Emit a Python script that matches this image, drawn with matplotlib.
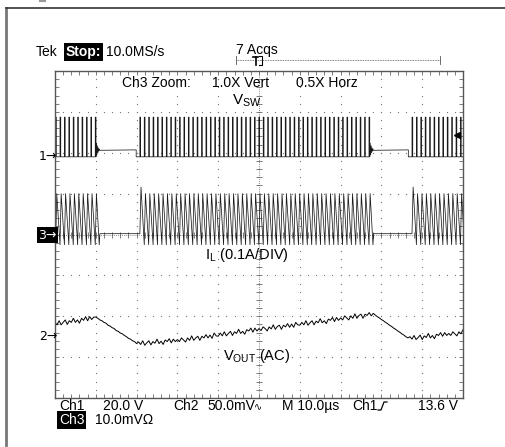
import numpy as np
import matplotlib.pyplot as plt
from matplotlib.lines import Line2D

plt.rcParams['font.family'] = ['Liberation Sans', 'DejaVu Sans']

W, H = 505, 447

# scope screen: 10 divisions x 10us, 8 vertical divisions
# switching bursts (us): first and last pulse of each burst
burst_first = [0.15, 20.8, 87.5]
burst_last = [10.4, 77.2, 99.9]
idle_drop = [19.9, 86.6]      # Vsw steps back to ground just before the next burst
period_us = 1.08
on_us = 0.18

# levels in divisions (ch1 ref at +1.9 div, ch3 ref at 0, ch2 ref at -2.47)
vsw_low, vsw_high, vsw_idle = 1.90, 2.87, 2.07
il_peak, il_first_peak, il_valley, il_idle = 1.00, 1.16, -0.25, 0.02
ring = [0.16, -0.12, 0.10, -0.07, 0.05, -0.03, 0.02, -0.01]
ring_dt = 0.12
trig_level = 2.43

# Vout (AC), divisions, one sample every 0.5us
vout_dt = 0.5
vout = [
    -2.15, -2.21, -2.11, -2.21, -2.15, -2.09, -2.20, -2.11, -2.15, -2.05,
    -2.15, -2.09, -2.17, -2.05, -2.10, -2.01, -2.11, -2.01, -2.08, -2.02,
    -2.02, -2.05, -2.09, -2.11, -2.15, -2.17, -2.22, -2.24, -2.28, -2.30,
    -2.35, -2.37, -2.41, -2.43, -2.47, -2.50, -2.54, -2.56, -2.60, -2.62,
    -2.67, -2.63, -2.69, -2.60, -2.71, -2.65, -2.60, -2.70, -2.62, -2.66,
    -2.56, -2.67, -2.61, -2.69, -2.58, -2.62, -2.55, -2.65, -2.56, -2.62,
    -2.57, -2.62, -2.53, -2.58, -2.63, -2.53, -2.59, -2.48, -2.59, -2.53,
    -2.49, -2.59, -2.49, -2.53, -2.45, -2.53, -2.46, -2.54, -2.41, -2.48,
    -2.49, -2.41, -2.48, -2.38, -2.48, -2.42, -2.37, -2.47, -2.38, -2.42,
    -2.32, -2.42, -2.37, -2.44, -2.33, -2.36, -2.29, -2.39, -2.29, -2.36,
    -2.30, -2.35, -2.26, -2.30, -2.36, -2.26, -2.31, -2.21, -2.32, -2.25,
    -2.22, -2.32, -2.22, -2.26, -2.18, -2.27, -2.19, -2.27, -2.15, -2.21,
    -2.22, -2.15, -2.21, -2.11, -2.22, -2.16, -2.11, -2.21, -2.12, -2.16,
    -2.06, -2.16, -2.11, -2.18, -2.07, -2.10, -2.03, -2.13, -2.03, -2.10,
    -2.04, -2.09, -1.99, -2.04, -2.09, -1.99, -2.05, -1.94, -2.05, -1.98,
    -1.95, -2.05, -1.95, -1.98, -1.91, -1.99, -1.93, -1.97, -2.01, -2.04,
    -2.08, -2.11, -2.15, -2.18, -2.22, -2.25, -2.29, -2.32, -2.36, -2.39,
    -2.43, -2.46, -2.50, -2.53, -2.50, -2.56, -2.47, -2.57, -2.52, -2.46,
    -2.57, -2.48, -2.52, -2.42, -2.53, -2.47, -2.55, -2.44, -2.47, -2.40,
    -2.49, -2.40, -2.47, -2.42, -2.47, -2.38, -2.43, -2.48, -2.38, -2.43,
    -2.33,
]


def vsw_trace():
    t, v = [0.0], [vsw_low]
    for i, (a, b) in enumerate(zip(burst_first, burst_last)):
        if i > 0:
            t += [idle_drop[i - 1], idle_drop[i - 1]]
            v += [vsw_idle, vsw_low]
        p = a
        while p <= b + 1e-9:
            t += [p, p, p + on_us, p + on_us]
            v += [vsw_low, vsw_high, vsw_high, vsw_low]
            p += period_us
        end = p - period_us + on_us
        if i < len(burst_first) - 1:
            for k, r in enumerate(ring):
                t.append(end + 0.1 + k * ring_dt)
                v.append(vsw_idle + r)
    t.append(100.0)
    v.append(v[-1])
    return t, v


def il_trace():
    t, v = [0.0], [il_valley]
    for i, (a, b) in enumerate(zip(burst_first, burst_last)):
        first = True
        if i > 0:
            t.append(a - 0.3)
            v.append(il_idle)
        p = a
        while p <= b + 1e-9:
            start_lvl = il_idle if (first and i > 0) else il_valley
            pk = il_first_peak if (first and i > 0) else il_peak
            t += [p, p + on_us + 0.1]
            v += [start_lvl, pk]
            first = False
            p += period_us
        t.append(p - period_us * 0.1)
        v.append(il_valley)
        if i < len(burst_first) - 1:
            t.append(p + 0.05)
            v.append(il_idle)
    t.append(100.0)
    v.append(v[-1])
    return t, v


fig = plt.figure(figsize=(W / 100, H / 100), dpi=100)
ax = fig.add_axes([55 / W, 1 - 398 / H, 408 / W, 327 / H])
ax.set_xlim(0, 100)
ax.set_ylim(-4, 4)

# graticule
for s in ax.spines.values():
    s.set_color('#555555')
    s.set_linewidth(1.0)
ax.set_xticks(np.arange(0, 101, 10))
ax.set_yticks(np.arange(-4, 5, 1))
ax.set_xticks(np.arange(0, 101, 2), minor=True)
ax.set_yticks(np.arange(-4, 4.01, 0.2), minor=True)
ax.tick_params(which='both', direction='in', length=3, width=0.6, color='#666666',
               top=True, right=True, labelbottom=False, labelleft=False)

yy = np.arange(-4, 4.01, 0.2)
xx = np.arange(0, 100.1, 2)
for xv in range(10, 100, 10):
    if xv == 50:
        continue
    ax.plot([xv] * len(yy), yy, ls='none', marker='s', ms=0.8, mew=0, color='#777777')
for yv in [-3, -2, -1, 1, 2, 3]:
    ax.plot(xx, [yv] * len(xx), ls='none', marker='s', ms=0.8, mew=0, color='#777777')
ax.plot([50, 50], [-4, 4], ls=(0, (1, 1.5)), lw=0.6, color='#666666')
ax.plot([0, 100], [0, 0], ls=(0, (1, 1.5)), lw=0.6, color='#666666')
ax.plot([50] * len(yy), yy, ls='none', marker='_', ms=4, mew=0.6, color='#666666')
ax.plot(xx, [0] * len(xx), ls='none', marker='|', ms=4, mew=0.6, color='#666666')

# traces
tv, vv = vsw_trace()
ax.plot(tv, vv, color='#1a1a1a', lw=0.55)
ti, vi = il_trace()
ax.plot(ti, vi, color='#1a1a1a', lw=0.55)
ax.plot(np.arange(len(vout)) * vout_dt, vout, color='black', lw=0.7)
ax.plot([98.6], [trig_level], marker='<', ms=5, color='black', clip_on=False)


def px(x, y):
    return x / W, 1 - y / H


def txt(x, y, s, size=10, **kw):
    fig.text(*px(x, y), s, fontsize=size, va='center', ha='left', **kw)


def seg(xs, ys, **kw):
    fig.add_artist(Line2D([x / W for x in xs], [1 - y / H for y in ys], **kw))


inv = dict(boxstyle='square,pad=0.12', fc='black', ec='none')

# outer frame
seg([6, 6], [8, 445], color='#777777', lw=2)
seg([6, W], [8, 8], color='#333333', lw=1.2)
seg([40, 45], [0.8, 0.8], color='#999999', lw=1.5)

# header
txt(36, 52, 'Tek')
txt(66, 52, 'Stop:', color='white', fontweight='bold', bbox=inv)
txt(106, 52, '10.0MS/s')
txt(236, 50, '7 Acqs')
seg([236, 440], [60, 60], color='#555555', lw=0.6, ls=(0, (1, 1)))
for xe in (236, 440):
    seg([xe, xe], [56, 64], color='#555555', lw=0.6)
seg([253, 258], [57, 57], color='black', lw=1.2)
seg([255.5, 255.5], [57, 65], color='black', lw=1.2)
seg([259, 262, 262, 259], [56, 56, 65, 65], color='black', lw=0.8)

txt(122, 83, 'Ch3 Zoom:')
txt(212, 83, '1.0X Vert')
txt(296, 83, '0.5X Horz')

txt(232, 101, r'V$_{\mathregular{SW}}$', size=11)
txt(205, 255, r'I$_{\mathregular{L}}$ (0.1A/DIV)', size=10.5)
txt(223, 356, r'V$_{\mathregular{OUT}}$ (AC)', size=10.5)

# channel markers
txt(39, 157, '1→', size=9, family=['DejaVu Sans'])
txt(38, 235, '3→', size=9, color='white', bbox=inv, family=['DejaVu Sans'])
txt(39, 336, '2→', size=9, family=['DejaVu Sans'])

# footer
txt(59, 406, 'Ch1')
txt(103, 406, '20.0 V')
txt(173, 406, 'Ch2')
txt(207, 406, '50.0mV')
txt(254, 407, '∿', size=7, family=['DejaVu Sans'])
txt(282, 406, 'M 10.0µs')
txt(352, 406, 'Ch1')
seg([378, 381, 384, 387], [410, 410, 402, 402], color='black', lw=0.9)
txt(418, 406, '13.6 V')
txt(59, 420, 'Ch3', color='white', bbox=inv)
txt(95, 420, '10.0mVΩ')

fig.savefig('out.png', dpi=100)
